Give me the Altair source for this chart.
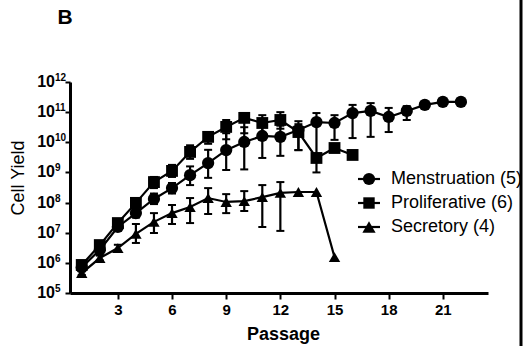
import altair as alt
import pandas as pd

# ---------------- data (log10 of cell yield) ----------------
series_names = ["Menstruation (5)", "Proliferative (6)", "Secretory (4)"]
series_shapes = ["circle", "square", "triangle-up"]

menstruation_passage = list(range(1, 23))
menstruation_log10 = [5.85, 6.43, 7.19, 7.65, 8.12, 8.48, 8.91, 9.31, 9.74, 10.01, 10.21,
                      10.18, 10.41, 10.67, 10.64, 10.97, 11.04, 10.84, 11.04, 11.24, 11.34, 11.34]
menstruation_low_log10 = [5.80, 6.35, 7.09, 7.50, 7.95, 8.30, 8.58, 8.82, 9.08, 9.10, 9.48,
                          9.55, 9.74, 9.00, 10.08, 10.14, 10.18, 10.34, 10.74, None, None, None]
menstruation_high_log10 = [5.90, 6.51, 7.29, 7.80, 8.30, 8.65, 9.20, 9.75, 10.30, 10.50, 10.60,
                           10.55, 10.70, 10.97, 10.90, 11.24, 11.30, 11.14, 11.20, None, None, None]

proliferative_passage = list(range(1, 17))
proliferative_log10 = [5.93, 6.59, 7.32, 7.99, 8.68, 9.05, 9.68, 10.18, 10.51, 10.81, 10.64,
                       10.74, 10.34, 9.48, 9.81, 9.58]
proliferative_low_log10 = [5.88, 6.50, 7.22, 7.88, 8.48, 8.85, 9.45, 9.95, 10.10, 10.30, 10.30,
                           10.45, 9.74, None, None, None]
proliferative_high_log10 = [5.98, 6.68, 7.42, 8.10, 8.85, 9.25, 9.90, 10.34, 10.74, 10.97, 10.90,
                            11.00, 10.60, None, None, None]

secretory_passage = list(range(1, 16))
secretory_log10 = [5.66, 6.16, 6.49, 6.96, 7.36, 7.65, 7.85, 8.15, 8.02, 8.05, 8.18, 8.32,
                   8.35, 8.35, 6.19]
secretory_low_log10 = [5.60, 6.08, 6.38, 6.66, 6.99, 7.29, 7.32, 7.62, 7.65, 7.72, 7.19, 7.06,
                       None, None, None]
secretory_high_log10 = [5.72, 6.24, 6.60, 7.29, 7.65, 7.92, 8.15, 8.48, 8.28, 8.38, 8.58, 8.68,
                        None, None, None]

x_ticks = [3, 6, 9, 12, 15, 18, 21]
y_exponents = [5, 6, 7, 8, 9, 10, 11, 12]

# ---------------- tables ----------------
rows = []
for name, xs, m, lo, hi in [
    (series_names[0], menstruation_passage, menstruation_log10, menstruation_low_log10, menstruation_high_log10),
    (series_names[1], proliferative_passage, proliferative_log10, proliferative_low_log10, proliferative_high_log10),
    (series_names[2], secretory_passage, secretory_log10, secretory_low_log10, secretory_high_log10),
]:
    for x, a, b, c in zip(xs, m, lo, hi):
        rows.append({
            "series": name,
            "passage": x,
            "yield": 10 ** a,
            "low": None if b is None else 10 ** b,
            "high": None if c is None else 10 ** c,
        })
df = pd.DataFrame(rows)
df_err = df.dropna(subset=["low", "high"]).copy()

labels_df = pd.DataFrame({"val": [10.0 ** e for e in y_exponents],
                          "exp": [str(e) for e in y_exponents]})

FONT = "Liberation Sans"

xscale = alt.Scale(domain=[0.35, 23.5], nice=False, zero=False)
yscale = alt.Scale(type="log", domain=[1e5, 1e12], nice=False)

xaxis = alt.Axis(values=x_ticks, title="Passage", grid=False,
                 domainWidth=3, domainColor="black", tickColor="black", tickWidth=2, tickSize=6,
                 labelFont=FONT, labelFontSize=15, labelFontWeight="bold", labelColor="black",
                 labelPadding=3, titleFont=FONT, titleFontSize=18, titleFontWeight="bold",
                 titleColor="black", titleX=213, titleY=46, titleAlign="center",
                 titleBaseline="alphabetic")
yaxis = alt.Axis(values=[10.0 ** e for e in y_exponents], labels=False, title="Cell Yield",
                 grid=False, domainWidth=3, domainColor="black", tickColor="black", tickWidth=2,
                 tickSize=5, titleFont=FONT, titleFontSize=18, titleFontWeight="normal",
                 titleColor="black", titleX=-52, titleY=95.5, titleAngle=270, titleAlign="center",
                 titleBaseline="middle")

X = alt.X("passage:Q", scale=xscale, axis=xaxis)

shape_enc = alt.Shape("series:N", scale=alt.Scale(domain=series_names, range=series_shapes), legend=None)
size_enc = alt.Size("series:N", scale=alt.Scale(domain=series_names, range=[150, 130, 175]), legend=None)

lines = alt.Chart(df).mark_line(color="black", strokeWidth=2.2).encode(
    x=X, y=alt.Y("yield:Q", scale=yscale, axis=yaxis), detail="series:N")

bars = alt.Chart(df_err).mark_rule(color="black", strokeWidth=2.2).encode(
    x=X, y=alt.Y("low:Q", scale=yscale, axis=yaxis), y2="high:Q")
caps_lo = alt.Chart(df_err).mark_tick(orient="horizontal", size=8, thickness=2, color="black",
                                      opacity=1).encode(
    x=X, y=alt.Y("low:Q", scale=yscale, axis=yaxis))
caps_hi = alt.Chart(df_err).mark_tick(orient="horizontal", size=8, thickness=2, color="black",
                                      opacity=1).encode(
    x=X, y=alt.Y("high:Q", scale=yscale, axis=yaxis))

points = alt.Chart(df).mark_point(filled=True, color="black", opacity=1).encode(
    x=X, y=alt.Y("yield:Q", scale=yscale, axis=yaxis), shape=shape_enc, size=size_enc)

# y tick labels as 10 with superscript exponent
ten = alt.Chart(labels_df).mark_text(align="right", baseline="middle", font=FONT, fontSize=16,
                                     fontWeight="bold", color="black").encode(
    x=alt.value(-15), y=alt.Y("val:Q", scale=yscale, axis=yaxis), text=alt.value("10"))
expo = alt.Chart(labels_df).mark_text(align="left", baseline="middle", font=FONT, fontSize=10,
                                      fontWeight="bold", color="black", dy=-4).encode(
    x=alt.value(-15), y=alt.Y("val:Q", scale=yscale, axis=yaxis), text="exp:N")

# manual legend
legend_layers = []
legend_y = [97, 121, 145]
legend_sizes = [150, 130, 175]
for name, shp, ly, sz in zip(series_names, series_shapes, legend_y, legend_sizes):
    ldf = pd.DataFrame({"label": [name]})
    legend_layers.append(alt.Chart(ldf).mark_rule(color="black", strokeWidth=2.2).encode(
        x=alt.value(288), x2=alt.value(310), y=alt.value(ly)))
    legend_layers.append(alt.Chart(ldf).mark_point(filled=True, color="black", opacity=1,
                                                   shape=shp, size=sz).encode(
        x=alt.value(299), y=alt.value(ly)))
    legend_layers.append(alt.Chart(ldf).mark_text(align="left", baseline="middle", font=FONT,
                                                  fontSize=18, color="black").encode(
        x=alt.value(321), y=alt.value(ly), text="label:N"))

panel = pd.DataFrame({"label": ["B"]})
panel_label = alt.Chart(panel).mark_text(align="center", baseline="middle", font=FONT,
                                         fontSize=21, fontWeight="bold", color="black").encode(
    x=alt.value(-5), y=alt.value(-64), text="label:N")
border = alt.Chart(panel).mark_rule(color="black", strokeWidth=3).encode(
    x=alt.value(451), y=alt.value(-82), y2=alt.value(264))

chart = alt.layer(lines, bars, caps_lo, caps_hi, points, ten, expo, panel_label, border,
                  *legend_layers).properties(
    width=418, height=211,
    autosize=alt.AutoSizeParams(type="none"),
    padding={"left": 70, "top": 82, "right": 35, "bottom": 53},
    background="white",
).configure_view(stroke=None)

chart.save("out.html", embed_options={"renderer": "svg", "actions": False})
